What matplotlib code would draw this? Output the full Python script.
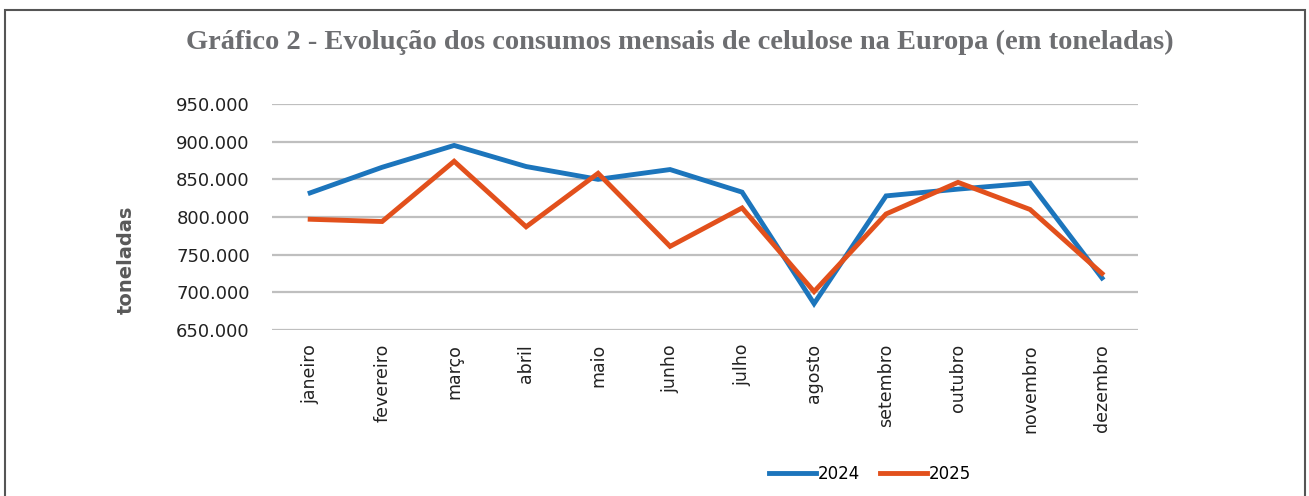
import matplotlib.pyplot as plt
import numpy as np
from matplotlib.ticker import FuncFormatter

MONTHS = ["janeiro", "fevereiro", "março", "abril", "maio", "junho",
          "julho", "agosto", "setembro", "outubro", "novembro", "dezembro"]
Y2024 = [832000, 866000, 895000, 867000, 850000, 863000,
         833000, 685000, 828000, 837000, 845000, 719000]
Y2025 = [797000, 794000, 874000, 787000, 858000, 761000,
         812000, 701000, 804000, 846000, 810000, 725000]
YTICKS = [650000, 700000, 750000, 800000, 850000, 900000, 950000]

BLUE = "#1c75bc"
ORANGE = "#e2501c"

fig = plt.figure(figsize=(13.09, 4.96), dpi=100)

# outer frame
fig.add_artist(plt.Rectangle((5 / 1309, -0.01), 1 - 9 / 1309, 1 - 10 / 496 + 0.01,
                             transform=fig.transFigure, fill=False,
                             edgecolor="#555555", linewidth=1.5))

fig.text(0.519, 1 - 42 / 496,
         "Gráfico 2 - Evolução dos consumos mensais de celulose na Europa (em toneladas)",
         ha="center", va="center", family="Liberation Serif", fontweight="bold",
         fontsize=20.5, color="#6d6e71")

ax = fig.add_axes([272 / 1309, 1 - 330 / 496, (1138 - 272) / 1309, (330 - 104) / 496])
x = np.arange(len(MONTHS))
ax.plot(x, Y2024, color=BLUE, linewidth=3.5, label="2024", solid_joinstyle="miter")
ax.plot(x, Y2025, color=ORANGE, linewidth=3.5, label="2025", solid_joinstyle="miter")

ax.set_xlim(-0.53, 11.5)
ax.set_ylim(650000, 950000)
ax.set_yticks(YTICKS)
ax.yaxis.set_major_formatter(FuncFormatter(lambda v, _: f"{int(v):,}".replace(",", ".")))
ax.set_xticks(x)
ax.set_xticklabels(MONTHS, rotation=90, va="top", ha="center")
ax.grid(axis="y", color="#bfbfbf", linewidth=1.6)
ax.set_axisbelow(True)
for s in ax.spines.values():
    s.set_visible(False)
ax.tick_params(axis="both", length=0)
ax.tick_params(axis="y", labelsize=13, pad=16, labelcolor="#222222")
ax.tick_params(axis="x", labelsize=12.5, pad=10, labelcolor="#222222")
ax.set_ylabel("toneladas", fontsize=14, color="#595959", fontweight="bold")
ax.yaxis.set_label_coords(-0.157, 0.31)

fig.legend(handles=ax.get_lines(), loc="center", bbox_to_anchor=(870 / 1309, 1 - 474 / 496),
           ncol=2, frameon=False, fontsize=12, handlelength=2.8, handletextpad=0.1,
           columnspacing=1.2)

fig.savefig("out.png", dpi=100)
